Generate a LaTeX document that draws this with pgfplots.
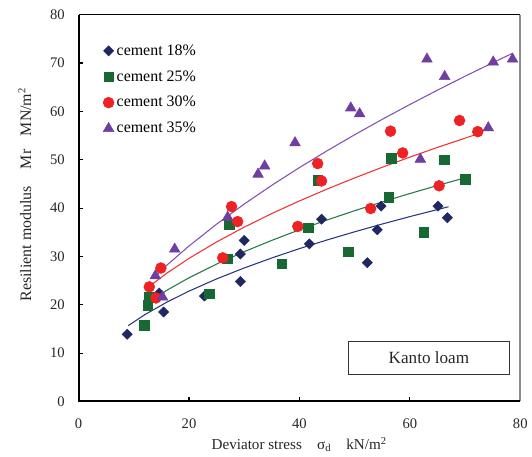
\documentclass[border=0pt]{standalone}
\usepackage{fontspec}
\setmainfont{Liberation Serif}
\usepackage{pgfplots}
\pgfplotsset{compat=1.18}
\definecolor{cnavy}{RGB}{31,40,96}
\definecolor{cgreen}{RGB}{24,104,52}
\definecolor{cred}{RGB}{238,34,36}
\definecolor{cpurple}{RGB}{112,62,160}
\definecolor{lnavy}{RGB}{40,54,130}
\definecolor{lgreen}{RGB}{40,120,70}
\definecolor{lred}{RGB}{240,50,50}
\definecolor{lpurple}{RGB}{128,80,180}
\begin{document}
\begin{tikzpicture}
\begin{axis}[
  scale only axis,
  width=332.8pt, height=291.5pt,
  xmin=0, xmax=80, ymin=0, ymax=80,
  xtick={0,20,40,60,80}, ytick={0,10,20,30,40,50,60,70,80},
  tick pos=left, tick align=inside,
  major tick length=3pt,
  tick style={black, line width=0.8pt},
  axis line style={draw=none},
  /pgf/number format/assume math mode=true,
  ticklabel style={font=\fontsize{11}{13}\selectfont, text=black!85},
  xticklabel style={yshift=-9.5pt},
  yticklabel style={xshift=-7pt},
  xlabel={Deviator stress\quad σ\textsubscript{d}\quad kN/m\textsuperscript{2}},
  ylabel={Resilient modulus\hspace{1.05em}Mr\hspace{0.85em}MN/m\textsuperscript{2}},
  xlabel style={font=\fontsize{11.4}{13}\selectfont, text=black!85, at={(rel axis cs:0.4995,-0.111)}, anchor=center},
  ylabel style={font=\fontsize{12}{14}\selectfont, text=black!85, at={(rel axis cs:-0.1217,0.535)}, anchor=center},
  legend style={at={(rel axis cs:0.055,0.93)}, anchor=north west, draw=none, fill=none,
    font=\fontsize{12}{14}\selectfont, row sep=6pt, inner sep=0pt},
  legend cell align=left,
  legend image code/.code={\draw[#1,mark repeat=2,mark phase=2] plot coordinates {(-0.08cm,0cm)(0cm,0cm)(0.08cm,0cm)};},
  clip=false,
]
% trend lines
\addplot[lnavy, line width=0.8pt, forget plot] coordinates {
(9,15.69)(12,17.96)(16,20.55)(20,22.82)(25,25.35)(30,27.61)(35,29.68)(40,31.61)(45,33.40)(50,35.09)(55,36.70)(60,38.23)(67,40.27)};
\addplot[lgreen, line width=0.8pt, forget plot] coordinates {
(13.7,21.38)(16,23.01)(20,25.58)(25,28.42)(30,30.98)(35,33.32)(40,35.50)(45,37.53)(50,39.45)(55,41.27)(60,43.00)(65,44.66)(70,46.25)};
\addplot[lred, line width=0.8pt, forget plot] coordinates {
(12.8,23.81)(16,26.55)(20,29.59)(25,32.99)(30,36.05)(35,38.87)(40,41.47)(45,43.92)(50,46.23)(55,48.43)(60,50.53)(65,52.54)(72.3,55.33)};
\addplot[lpurple, line width=0.8pt, forget plot] coordinates {
(13.7,25.73)(16,28.20)(20,32.16)(25,36.67)(30,40.83)(35,44.71)(40,48.37)(45,51.84)(50,55.16)(55,58.35)(60,61.41)(65,64.38)(70,67.26)(75,70.04)(78.6,72.00)};
% data
\addplot[only marks, mark=square*, mark size=2.7pt, mark options={rotate=45, draw=cnavy, fill=cnavy}] coordinates {
(8.8,13.9)(15.4,18.5)(14.6,22.4)(22.8,21.8)(29.3,24.8)(29.3,30.5)(30.0,33.3)(44.0,37.7)(41.8,32.6)(54.1,35.5)(52.3,28.7)(54.8,40.4)(65.1,40.4)(66.8,38.0)};
\addlegendentry{cement 18\%}
\addplot[only marks, mark=square*, mark size=3.6pt, mark options={draw=cgreen, fill=cgreen}] coordinates {
(11.9,15.8)(12.5,19.9)(12.8,21.6)(23.7,22.3)(26.9,29.5)(27.3,36.5)(36.8,28.5)(41.6,35.9)(43.3,45.7)(48.8,31.0)(56.2,42.2)(56.6,50.3)(62.5,35.0)(66.2,50.0)(70.0,46.0)};
\addlegendentry{cement 25\%}
\addplot[only marks, mark=*, mark size=4.1pt, mark options={draw=cred, fill=cred}] coordinates {
(12.8,23.7)(14.0,21.4)(14.9,27.6)(26.1,29.7)(27.7,40.3)(28.8,37.2)(39.7,36.2)(43.3,49.2)(44.0,45.6)(52.9,39.9)(58.7,51.4)(65.3,44.6)(56.5,55.9)(69.0,58.1)(72.3,55.8)};
\addlegendentry{cement 30\%}
\addplot[only marks, mark=triangle*, mark size=4.6pt, mark options={draw=cpurple, fill=cpurple}] coordinates {
(13.9,26.0)(15.2,21.6)(17.4,31.5)(27.0,38.1)(32.5,47.0)(33.7,48.7)(39.2,53.5)(49.3,60.7)(50.9,59.5)(63.1,70.8)(66.3,67.2)(75.1,70.2)(78.6,70.8)(74.2,56.6)(61.9,50.1)};
\addlegendentry{cement 35\%}
% Kanto loam box
\draw[black!80, line width=0.6pt] (axis cs:48.8,5.5) rectangle (axis cs:78.1,12.5);
\node[font=\fontsize{12.9}{15}\selectfont, text=black!85] at (axis cs:63.45,9.0) {Kanto loam};
% frame
\draw[black, line width=0.6pt] (rel axis cs:0,1) -- (rel axis cs:1,1);
\draw[black!45, line width=1.4pt] (rel axis cs:1,0) -- (rel axis cs:1,1);
\draw[black, line width=1.5pt] (rel axis cs:0,1) -- (rel axis cs:0,0) -- (rel axis cs:1,0);
\path (rel axis cs:-0.178,-0.1408) rectangle (rel axis cs:1.021,1.0378);
\end{axis}
\end{tikzpicture}
\end{document}
